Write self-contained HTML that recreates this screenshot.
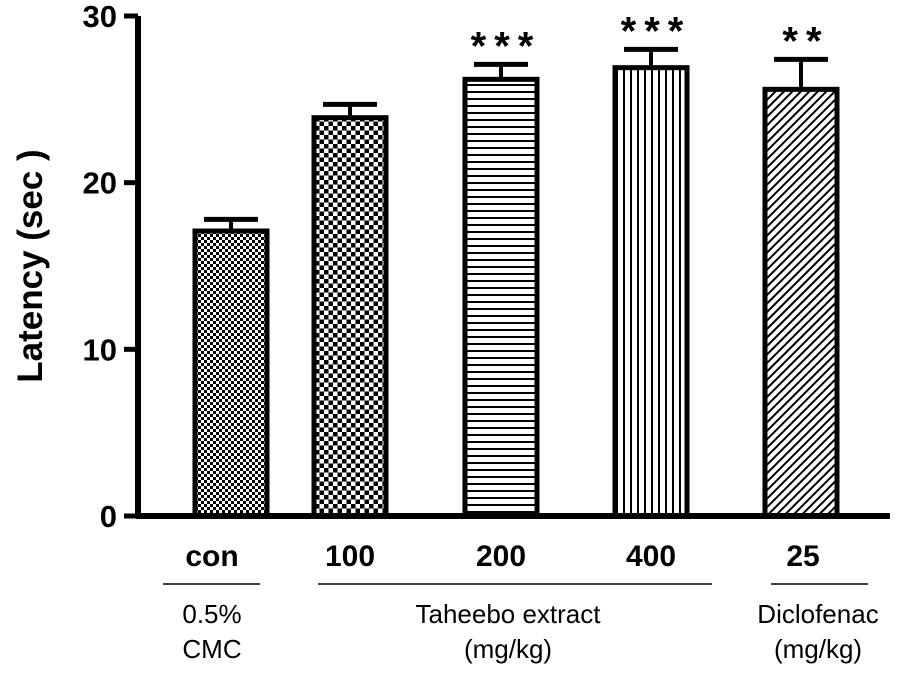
<!DOCTYPE html>
<html><head><meta charset="utf-8"><style>
html,body{margin:0;padding:0;background:#fff;}
svg{display:block;font-family:"Liberation Sans",Arial,sans-serif;}
</style></head><body>
<svg id="chart" width="914" height="677" viewBox="0 0 914 677">
<defs>
<pattern id="p0" width="6" height="6" patternUnits="userSpaceOnUse"><rect width="6" height="6" fill="#fff"/><rect width="3" height="3" fill="#000"/><rect x="3" y="3" width="3" height="3" fill="#000"/></pattern>
<pattern id="p1" width="9" height="9" patternUnits="userSpaceOnUse"><rect width="9" height="9" fill="#fff"/><rect width="4.5" height="4.5" fill="#000"/><rect x="4.5" y="4.5" width="4.5" height="4.5" fill="#000"/></pattern>
<pattern id="p2" width="7" height="7" patternUnits="userSpaceOnUse"><rect width="7" height="7" fill="#fff"/><rect y="0" width="7" height="2" fill="#000"/></pattern>
<pattern id="p3" width="7" height="7" patternUnits="userSpaceOnUse"><rect width="7" height="7" fill="#fff"/><rect x="0" width="2" height="7" fill="#000"/></pattern>
<pattern id="p4" width="6" height="6" patternUnits="userSpaceOnUse" patternTransform="rotate(45)"><rect width="6" height="6" fill="#fff"/><rect width="2" height="6" fill="#000"/></pattern>
</defs>
<g id="bars"></g>
<g id="axes"></g>
<text transform="translate(42,266) rotate(-90)" text-anchor="middle" font-size="35" font-weight="bold">Latency (sec )</text>
<g font-size="26" text-anchor="middle">
<line x1="163" y1="584" x2="260" y2="584" stroke="#000" stroke-width="1.5"/>
<line x1="318" y1="584" x2="712" y2="584" stroke="#000" stroke-width="1.5"/>
<line x1="771" y1="584" x2="868" y2="584" stroke="#000" stroke-width="1.5"/>
<text x="212" y="623">0.5%</text><text x="212" y="658">CMC</text>
<text x="508" y="623">Taheebo extract</text><text x="508" y="658">(mg/kg)</text>
<text x="818" y="623">Diclofenac</text><text x="818" y="658">(mg/kg)</text>
</g>
</svg>
<script>
const categories = ["con","100","200","400","25"];
const means = [17.1,23.9,26.2,26.9,25.6];
const errors = [0.7,0.8,0.9,1.1,1.8];
const stars = ["","","***","***","**"];
const yTicks = [0,10,20,30];
const NS="http://www.w3.org/2000/svg";
const centers=[231,350,501,651,801], labelShift=[-19,0,0,0,2], bw=72, fills=["url(#p0)","url(#p1)","url(#p2)","url(#p3)","url(#p4)"];
const y = v => 516 - v*(500/30);
const bars=document.getElementById('bars'), axes=document.getElementById('axes');
function mk(tag,attrs,parent){const e=document.createElementNS(NS,tag);for(const k in attrs)e.setAttribute(k,attrs[k]);parent.appendChild(e);return e;}
categories.forEach((c,i)=>{
  const cx=centers[i];
  const eb=mk('g',{},bars);
  
  
  mk('line',{x1:cx,x2:cx,y1:y(means[i]),y2:y(means[i]+errors[i]),stroke:'#000','stroke-width':4},eb);
  mk('line',{x1:cx-27,x2:cx+27,y1:y(means[i]+errors[i]),y2:y(means[i]+errors[i]),stroke:'#000','stroke-width':5},eb);
  const r=mk('rect',{x:cx-bw/2,y:y(means[i]),width:bw,height:y(0)-y(means[i]),fill:fills[i],stroke:'#000','stroke-width':5},bars);
  
  
  if(stars[i]){const t=mk('text',{x:cx+5,y:y(means[i]+errors[i])-5,'text-anchor':'middle','font-size':40,'font-weight':'bold','letter-spacing':'8'},bars);t.textContent=stars[i];
    
    }
  const l=mk('text',{x:cx+labelShift[i],y:566,'text-anchor':'middle','font-size':30,'font-weight':'bold'},axes);l.textContent=c;
  
  
});
const ya=mk('line',{x1:138,x2:138,y1:y(30),y2:y(0)+2,stroke:'#000','stroke-width':6},axes);


const xa=mk('line',{x1:136,x2:890,y1:y(0),y2:y(0),stroke:'#000','stroke-width':6},axes);


yTicks.forEach(v=>{
  mk('line',{x1:124,x2:138,y1:y(v),y2:y(v),stroke:'#000','stroke-width':5},axes);
  const t=mk('text',{x:117,y:y(v)+11,'text-anchor':'end','font-size':31,'font-weight':'bold'},axes);t.textContent=v;
  
  
});
</script>
</body></html>
